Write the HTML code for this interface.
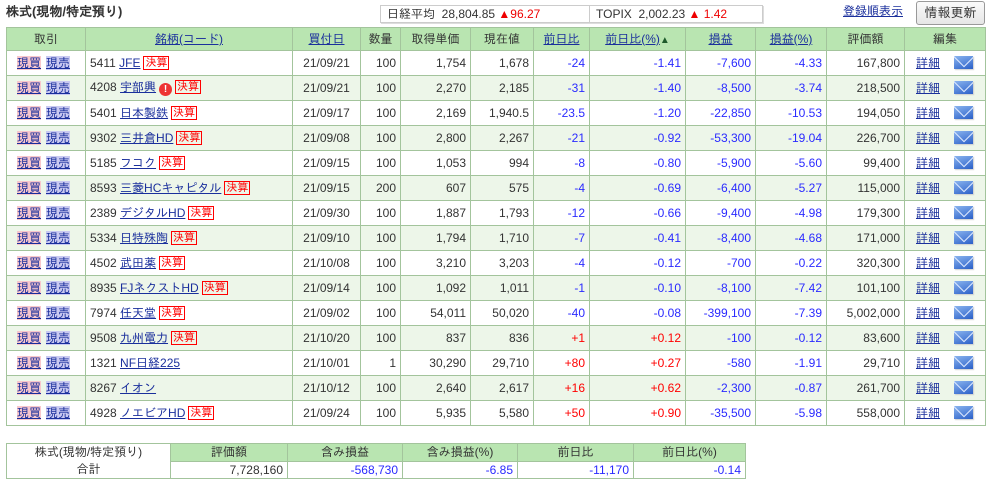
<!DOCTYPE html>
<html><head><meta charset="utf-8"><style>
*{box-sizing:border-box}
body{margin:0;width:990px;height:480px;background:#fff;font-family:"Liberation Sans","IPAGothic","Noto Sans CJK JP",sans-serif;font-size:12px;color:#333;position:relative;overflow:hidden}
.title{position:absolute;left:6px;top:4px;font-weight:bold;font-size:13px;color:#333}
.idx{position:absolute;left:380px;top:5px;width:383px;height:18px;border:1px solid #ccc;background:#fff;display:flex;font-size:12px;box-shadow:1px 1px 0 #ddd}
.idx div{padding:1px 6px;line-height:15px}
.up{color:#e00}
.reg{position:absolute;left:843px;top:4px;color:#1a2f9c;text-decoration:underline}
.btn{position:absolute;left:916px;top:1px;width:69px;height:24px;border:1px solid #999;border-radius:3px;background:linear-gradient(#fafafa,#e6e6e6);font-size:13px;text-align:center;line-height:22px;color:#333}
table{border-collapse:collapse;table-layout:fixed;position:absolute}
td,th{border:1px solid #a3c49c;padding:0 4px;white-space:nowrap;font-weight:normal}
#m{left:6px;top:27px;width:979px}
#m th{background:#b9e5b1;height:23px;text-align:center}
#m td{height:25px}
#m tr.g td{background:#edf6e9}
a{color:#1a2f9c;text-decoration:underline}
.r{text-align:right}.c{text-align:center}
.n{color:#2a2aff}.p{color:#f00}
.buy{background:#f8c7cc;color:#1a2f9c;text-decoration:underline;margin:0 5px 0 6px}
.sell{background:#c9c9f1;color:#1a2f9c;text-decoration:underline}
.k{display:inline-block;border:1px solid #f00;color:#f00;font-size:11px;line-height:12px;padding:0 1px;margin-left:3px;vertical-align:1px}
.ex{display:inline-block;width:13px;height:13px;border-radius:50%;background:#e33;color:#fff;font-size:10px;line-height:13px;text-align:center;font-weight:bold;margin-left:3px;vertical-align:-1px}
.mail{display:inline-block;width:19px;height:13px;background:linear-gradient(160deg,#8ab4ef,#2a5fc8);margin-left:14px;vertical-align:-2px;position:relative;overflow:hidden;box-shadow:1px 1px 1px #ccc}
.mail:before{content:"";position:absolute;left:2px;top:-8px;width:14px;height:14px;border:1px solid #dde9ff;transform:rotate(45deg)}
#f{left:6px;top:443px;width:739px}
#f td{height:17px}
#f .h{background:#b9e5b1;text-align:center}
</style></head><body>
<div class="title">株式(現物/特定預り)</div>
<div class="idx"><div style="width:209px;border-right:1px solid #ccc">日経平均&nbsp; 28,804.85 <span class="up">▲96.27</span></div><div>TOPIX&nbsp; 2,002.23 <span class="up">▲ 1.42</span></div></div>
<a class="reg">登録順表示</a>
<div class="btn">情報更新</div>
<table id="m">
<colgroup><col style="width:79px"><col style="width:207px"><col style="width:68px"><col style="width:40px"><col style="width:70px"><col style="width:63px"><col style="width:56px"><col style="width:96px"><col style="width:70px"><col style="width:71px"><col style="width:78px"><col style="width:81px"></colgroup>
<tr><th>取引</th><th><a>銘柄(コード)</a></th><th><a>買付日</a></th><th>数量</th><th>取得単価</th><th>現在値</th><th><a>前日比</a></th><th><a>前日比(%)</a><span style="color:#1d5a2a;font-size:10px">▲</span></th><th><a>損益</a></th><th><a>損益(%)</a></th><th>評価額</th><th>編集</th></tr>
<tr><td><span class="buy">現買</span><span class="sell">現売</span></td><td>5411 <a>JFE</a><span class="k">決算</span></td><td class="c">21/09/21</td><td class="r">100</td><td class="r">1,754</td><td class="r">1,678</td><td class="r n">-24</td><td class="r n">-1.41</td><td class="r n">-7,600</td><td class="r n">-4.33</td><td class="r">167,800</td><td><a style="margin-left:7px">詳細</a><span class="mail"></span></td></tr>
<tr class="g"><td><span class="buy">現買</span><span class="sell">現売</span></td><td>4208 <a>宇部興</a><span class="ex">!</span><span class="k">決算</span></td><td class="c">21/09/21</td><td class="r">100</td><td class="r">2,270</td><td class="r">2,185</td><td class="r n">-31</td><td class="r n">-1.40</td><td class="r n">-8,500</td><td class="r n">-3.74</td><td class="r">218,500</td><td><a style="margin-left:7px">詳細</a><span class="mail"></span></td></tr>
<tr><td><span class="buy">現買</span><span class="sell">現売</span></td><td>5401 <a>日本製鉄</a><span class="k">決算</span></td><td class="c">21/09/17</td><td class="r">100</td><td class="r">2,169</td><td class="r">1,940.5</td><td class="r n">-23.5</td><td class="r n">-1.20</td><td class="r n">-22,850</td><td class="r n">-10.53</td><td class="r">194,050</td><td><a style="margin-left:7px">詳細</a><span class="mail"></span></td></tr>
<tr class="g"><td><span class="buy">現買</span><span class="sell">現売</span></td><td>9302 <a>三井倉HD</a><span class="k">決算</span></td><td class="c">21/09/08</td><td class="r">100</td><td class="r">2,800</td><td class="r">2,267</td><td class="r n">-21</td><td class="r n">-0.92</td><td class="r n">-53,300</td><td class="r n">-19.04</td><td class="r">226,700</td><td><a style="margin-left:7px">詳細</a><span class="mail"></span></td></tr>
<tr><td><span class="buy">現買</span><span class="sell">現売</span></td><td>5185 <a>フコク</a><span class="k">決算</span></td><td class="c">21/09/15</td><td class="r">100</td><td class="r">1,053</td><td class="r">994</td><td class="r n">-8</td><td class="r n">-0.80</td><td class="r n">-5,900</td><td class="r n">-5.60</td><td class="r">99,400</td><td><a style="margin-left:7px">詳細</a><span class="mail"></span></td></tr>
<tr class="g"><td><span class="buy">現買</span><span class="sell">現売</span></td><td>8593 <a>三菱HCキャピタル</a><span class="k">決算</span></td><td class="c">21/09/15</td><td class="r">200</td><td class="r">607</td><td class="r">575</td><td class="r n">-4</td><td class="r n">-0.69</td><td class="r n">-6,400</td><td class="r n">-5.27</td><td class="r">115,000</td><td><a style="margin-left:7px">詳細</a><span class="mail"></span></td></tr>
<tr><td><span class="buy">現買</span><span class="sell">現売</span></td><td>2389 <a>デジタルHD</a><span class="k">決算</span></td><td class="c">21/09/30</td><td class="r">100</td><td class="r">1,887</td><td class="r">1,793</td><td class="r n">-12</td><td class="r n">-0.66</td><td class="r n">-9,400</td><td class="r n">-4.98</td><td class="r">179,300</td><td><a style="margin-left:7px">詳細</a><span class="mail"></span></td></tr>
<tr class="g"><td><span class="buy">現買</span><span class="sell">現売</span></td><td>5334 <a>日特殊陶</a><span class="k">決算</span></td><td class="c">21/09/10</td><td class="r">100</td><td class="r">1,794</td><td class="r">1,710</td><td class="r n">-7</td><td class="r n">-0.41</td><td class="r n">-8,400</td><td class="r n">-4.68</td><td class="r">171,000</td><td><a style="margin-left:7px">詳細</a><span class="mail"></span></td></tr>
<tr><td><span class="buy">現買</span><span class="sell">現売</span></td><td>4502 <a>武田薬</a><span class="k">決算</span></td><td class="c">21/10/08</td><td class="r">100</td><td class="r">3,210</td><td class="r">3,203</td><td class="r n">-4</td><td class="r n">-0.12</td><td class="r n">-700</td><td class="r n">-0.22</td><td class="r">320,300</td><td><a style="margin-left:7px">詳細</a><span class="mail"></span></td></tr>
<tr class="g"><td><span class="buy">現買</span><span class="sell">現売</span></td><td>8935 <a>FJネクストHD</a><span class="k">決算</span></td><td class="c">21/09/14</td><td class="r">100</td><td class="r">1,092</td><td class="r">1,011</td><td class="r n">-1</td><td class="r n">-0.10</td><td class="r n">-8,100</td><td class="r n">-7.42</td><td class="r">101,100</td><td><a style="margin-left:7px">詳細</a><span class="mail"></span></td></tr>
<tr><td><span class="buy">現買</span><span class="sell">現売</span></td><td>7974 <a>任天堂</a><span class="k">決算</span></td><td class="c">21/09/02</td><td class="r">100</td><td class="r">54,011</td><td class="r">50,020</td><td class="r n">-40</td><td class="r n">-0.08</td><td class="r n">-399,100</td><td class="r n">-7.39</td><td class="r">5,002,000</td><td><a style="margin-left:7px">詳細</a><span class="mail"></span></td></tr>
<tr class="g"><td><span class="buy">現買</span><span class="sell">現売</span></td><td>9508 <a>九州電力</a><span class="k">決算</span></td><td class="c">21/10/20</td><td class="r">100</td><td class="r">837</td><td class="r">836</td><td class="r p">+1</td><td class="r p">+0.12</td><td class="r n">-100</td><td class="r n">-0.12</td><td class="r">83,600</td><td><a style="margin-left:7px">詳細</a><span class="mail"></span></td></tr>
<tr><td><span class="buy">現買</span><span class="sell">現売</span></td><td>1321 <a>NF日経225</a></td><td class="c">21/10/01</td><td class="r">1</td><td class="r">30,290</td><td class="r">29,710</td><td class="r p">+80</td><td class="r p">+0.27</td><td class="r n">-580</td><td class="r n">-1.91</td><td class="r">29,710</td><td><a style="margin-left:7px">詳細</a><span class="mail"></span></td></tr>
<tr class="g"><td><span class="buy">現買</span><span class="sell">現売</span></td><td>8267 <a>イオン</a></td><td class="c">21/10/12</td><td class="r">100</td><td class="r">2,640</td><td class="r">2,617</td><td class="r p">+16</td><td class="r p">+0.62</td><td class="r n">-2,300</td><td class="r n">-0.87</td><td class="r">261,700</td><td><a style="margin-left:7px">詳細</a><span class="mail"></span></td></tr>
<tr><td><span class="buy">現買</span><span class="sell">現売</span></td><td>4928 <a>ノエビアHD</a><span class="k">決算</span></td><td class="c">21/09/24</td><td class="r">100</td><td class="r">5,935</td><td class="r">5,580</td><td class="r p">+50</td><td class="r p">+0.90</td><td class="r n">-35,500</td><td class="r n">-5.98</td><td class="r">558,000</td><td><a style="margin-left:7px">詳細</a><span class="mail"></span></td></tr>
</table>
<table id="f">
<colgroup><col style="width:164px"><col style="width:117px"><col style="width:115px"><col style="width:115px"><col style="width:116px"><col style="width:112px"></colgroup>
<tr><td rowspan="2" class="c" style="line-height:17px">株式(現物/特定預り)<br>合計</td><td class="h">評価額</td><td class="h">含み損益</td><td class="h">含み損益(%)</td><td class="h">前日比</td><td class="h">前日比(%)</td></tr>
<tr><td class="r">7,728,160</td><td class="r n">-568,730</td><td class="r n">-6.85</td><td class="r n">-11,170</td><td class="r n">-0.14</td></tr>
</table>
</body></html>
